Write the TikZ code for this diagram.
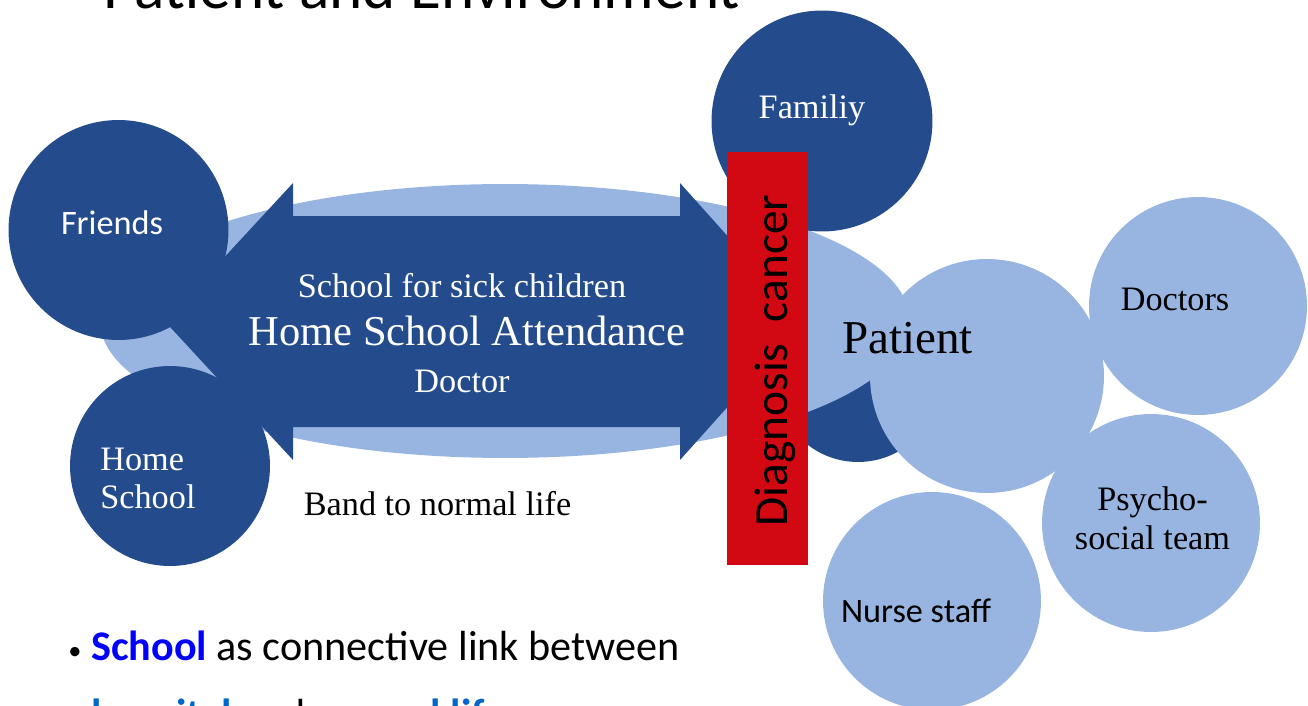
\documentclass[tikz,border=0pt]{standalone}
\usepackage{xcolor}
\usepackage{fontspec}
\setmainfont{Liberation Serif}
\newfontfamily\calibri{Carlito}
\usepackage{tikz}
\definecolor{darkblue}{HTML}{244B8C}
\definecolor{lightblue}{HTML}{98B4E0}
\definecolor{diagred}{HTML}{D20812}
\definecolor{linkblue}{HTML}{0000FF}
\definecolor{lifeblue}{HTML}{0066CC}
\tikzset{
	dark/.style={circle, fill=darkblue, inner sep=0pt},
	light/.style={circle, fill=lightblue, inner sep=0pt},
	serif/.style={font=\fontsize{19.5}{23}\selectfont, inner sep=0pt, anchor=base},
	sans/.style={font=\calibri\fontsize{19.5}{23}\selectfont, inner sep=0pt, anchor=base}
}

\begin{document}
\begin{tikzpicture}[x=0.02cm, y=-0.02cm]
				\useasboundingbox (0,0) rectangle (1308,706);
				\node[dark, minimum size=3.28cm](nodeback) at (858,380){};
				\fill[lightblue] (505,321) ellipse [x radius=8.1cm, y radius=2.74cm];
				\node[dark, minimum size=4.4cm](nodefriends) at (118.5,230){};
				\node[dark, minimum size=4cm](nodehome) at (170,466){};
				\fill[darkblue] (165,321.5) -- (293,183) -- (293,216) -- (680,216) -- (680,183)
					-- (804,321.5) -- (680,460) -- (680,427) -- (293,427) -- (293,460) -- cycle;
				\node[dark, minimum size=4.42cm](nodefamily) at (822,121){};
				\node[fill=diagred, minimum width=1.62cm, minimum height=8.26cm, inner sep=0pt, anchor=north west](nodediag) at (727,152){};
				\node[light, minimum size=4.68cm](nodepatient) at (987,376){};
				\node[light, minimum size=4.36cm](nodedoctors) at (1198,306){};
				\node[light, minimum size=4.36cm](nodepsycho) at (1151,523){};
				\node[light, minimum size=4.36cm](nodenurse) at (932,601){};
				\node[sans, text=white](txtfriends) at (112,234){Friends};
				\node[serif, text=white, anchor=base west](txthome1) at (100,470){Home};
				\node[serif, text=white, anchor=base west](txthome2) at (100,508){School};
				\node[serif, text=white](txtfamily) at (812,118){Familiy};
				\node[serif, text=white](txtschool1) at (462,297){School for sick children};
				\node[serif, text=white, font=\fontsize{24.2}{28}\selectfont](txtschool2) at (467,345){Home School Attendance};
				\node[serif, text=white](txtschool3) at (462,392){Doctor};
				\node[serif](txtband) at (437.5,515){Band to normal life};
				\node[sans, font=\calibri\fontsize{27}{30}\selectfont, rotate=90](txtdiag) at (787,360.5){Diagnosis\ \ cancer};
				\node[serif, font=\fontsize{26.8}{30}\selectfont](txtpatient) at (907.5,353){Patient};
				\node[serif](txtdoctors) at (1175,310){Doctors};
				\node[serif](txtpsycho1) at (1152.5,510.5){Psycho-};
				\node[serif](txtpsycho2) at (1152.5,549){social team};
				\node[sans](txtnurse) at (916,622){Nurse staff};
				\node[sans, font=\calibri\fontsize{36}{40}\selectfont, anchor=base west](txttitle) at (103,9){Patient and Environment};
				\node[sans, font=\calibri\fontsize{15}{18}\selectfont, anchor=base west](txtbullet) at (68,659){•};
				\node[sans, font=\calibri\fontsize{24}{28}\selectfont, anchor=base west](txtline1) at (91,660){\textcolor{linkblue}{\bfseries School} as connective link between};
				\node[sans, font=\calibri\fontsize{24}{28}\selectfont, anchor=base west](txtline2) at (91,728){\textcolor{lifeblue}{\bfseries hospital} and \textcolor{lifeblue}{\bfseries normal life}};
			\end{tikzpicture}
\end{document}
